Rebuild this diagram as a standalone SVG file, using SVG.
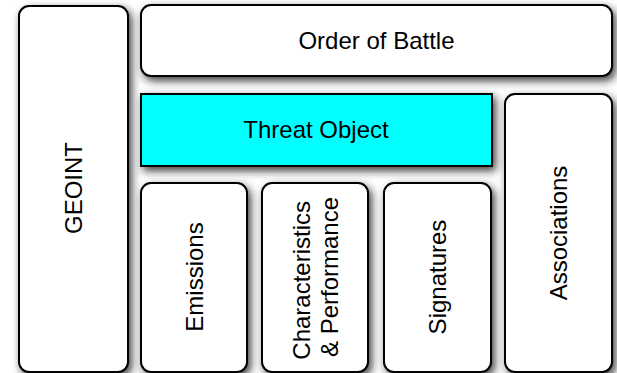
<svg xmlns="http://www.w3.org/2000/svg" width="617" height="373" viewBox="0 0 617 373">
  <defs>
    <filter id="shadow" x="-20%" y="-20%" width="140%" height="140%">
      <feDropShadow dx="3" dy="4" stdDeviation="4.5" flood-color="#202020" flood-opacity="0.85"/>
    </filter>
    <style>
      .box { fill: #ffffff; stroke: #000000; stroke-width: 2; filter: url(#shadow); }
      .hot { fill: #00ffff; }
      .lbl { font-family: "Liberation Sans", Arial, sans-serif; font-size: 24px; fill: #000000; text-anchor: middle; }
    </style>
  </defs>
  <rect width="617" height="373" fill="#ffffff"/>

  <g id="geoint">
    <rect class="box" x="19" y="6" width="109" height="366" rx="10"/>
    <text class="lbl" transform="translate(73.5,188) rotate(-90)" y="8.6">GEOINT</text>
  </g>

  <g id="order-of-battle">
    <rect class="box" x="141" y="5" width="471" height="71" rx="10"/>
    <text class="lbl" x="376.5" y="49">Order of Battle</text>
  </g>

  <g id="threat-object">
    <rect class="box hot" x="141" y="94" width="351" height="72"/>
    <text class="lbl" x="316" y="138">Threat Object</text>
  </g>

  <g id="emissions">
    <rect class="box" x="141" y="183" width="106" height="189" rx="10"/>
    <text class="lbl" transform="translate(194,277) rotate(-90)" y="8.6">Emissions</text>
  </g>

  <g id="characteristics-performance">
    <rect class="box" x="262" y="183" width="106" height="189" rx="10"/>
    <text class="lbl" transform="translate(315,277) rotate(-90)">
      <tspan x="0" y="-5">Characteristics</tspan>
      <tspan x="0" y="23">&amp; Performance</tspan>
    </text>
  </g>

  <g id="signatures">
    <rect class="box" x="384" y="183" width="107" height="189" rx="10"/>
    <text class="lbl" transform="translate(437.5,277) rotate(-90)" y="8.6">Signatures</text>
  </g>

  <g id="associations">
    <rect class="box" x="505" y="94" width="107" height="278" rx="10"/>
    <text class="lbl" transform="translate(558.5,233) rotate(-90)" y="8.6">Associations</text>
  </g>

  <g id="connectors"/>
</svg>
